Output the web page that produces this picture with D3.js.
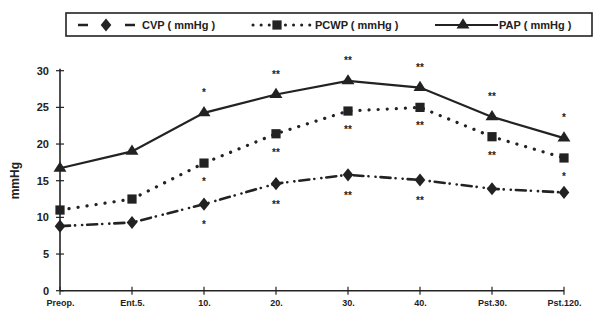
<!DOCTYPE html>
<html><head><meta charset="utf-8">
<script src="https://cdn.jsdelivr.net/npm/d3@7"></script>
<style>body{margin:0;background:#fff}svg{display:block}text{font-family:Arial,"Liberation Sans",sans-serif;font-weight:bold;fill:#222}</style>
</head><body><svg id="c" width="594" height="322"></svg>
<script>
const categories = ["Preop.", "Ent.5.", "10.", "20.", "30.", "40.", "Pst.30.", "Pst.120."];
const cvp  = [8.8, 9.3, 11.8, 14.6, 15.8, 15.1, 13.9, 13.4];
const pcwp = [11.0, 12.5, 17.4, 21.4, 24.5, 25.0, 21.0, 18.1];
const pap  = [16.7, 19.0, 24.25, 26.75, 28.6, 27.7, 23.7, 20.8];
const yTicks = [0, 5, 10, 15, 20, 25, 30];
const seriesNames = ["CVP ( mmHg )", "PCWP ( mmHg )", "PAP ( mmHg )"];
const sigPap  = ["", "", "*", "**", "**", "**", "**", "*"];
const sigPcwp = ["", "", "*", "**", "**", "**", "**", "*"];
const sigCvp  = ["", "", "*", "**", "**", "**", "", ""];

const svg = d3.select("#c");
const ink = "#222";
const x = d3.scalePoint().domain(categories).range([60, 564]);
const y = d3.scaleLinear().domain([0, 30]).range([290.7, 70.7]);

const yAxis = svg.append("g").attr("transform", "translate(60,0)")
  .call(d3.axisLeft(y).tickValues(yTicks).tickSize(0).tickPadding(11));
yAxis.select(".domain").remove();
yAxis.selectAll("text").style("font-size", "11px").attr("fill", ink);
svg.append("line").attr("x1", 60).attr("x2", 60).attr("y1", y(30) - 2).attr("y2", y(0)).attr("stroke", ink).attr("stroke-width", 1.6);
svg.selectAll(".yt").data(yTicks).join("line").attr("x1", 56).attr("x2", 64)
  .attr("y1", d => y(d)).attr("y2", d => y(d)).attr("stroke", ink).attr("stroke-width", 1.2);

const xAxis = svg.append("g").attr("transform", `translate(0,${y(0)})`)
  .call(d3.axisBottom(x).tickSize(0).tickPadding(9));
xAxis.select(".domain").remove();
xAxis.selectAll("text").style("font-size", "9px").attr("fill", ink);
svg.append("line").attr("x1", 60).attr("x2", 564).attr("y1", y(0)).attr("y2", y(0)).attr("stroke", ink).attr("stroke-width", 1.6);
svg.selectAll(".xt").data(categories).join("line").attr("x1", d => x(d)).attr("x2", d => x(d))
  .attr("y1", y(0) - 4).attr("y2", y(0) + 4).attr("stroke", ink).attr("stroke-width", 1.2);

svg.append("text").attr("transform", `translate(19,${y(15)}) rotate(-90)`)
  .attr("text-anchor", "middle").style("font-size", "12px").text("mmHg");

const line = d3.line().x((d, i) => x(categories[i])).y(d => y(d));
const dashCvp = "10,5,0.1,7,0.1,5";
const dashPcwp = "0.1,9";

svg.append("path").datum(pap).attr("d", line).attr("fill", "none").attr("stroke", ink).attr("stroke-width", 2.2);
svg.append("path").datum(pcwp).attr("d", line).attr("fill", "none").attr("stroke", ink).attr("stroke-width", 3.2)
  .attr("stroke-dasharray", dashPcwp).attr("stroke-linecap", "round");
svg.append("path").datum(cvp).attr("d", line).attr("fill", "none").attr("stroke", ink).attr("stroke-width", 2.6)
  .attr("stroke-dasharray", dashCvp).attr("stroke-linecap", "round");

const tri = d3.symbol().type(d3.symbolTriangle).size(60);
const sq = d3.symbol().type(d3.symbolSquare).size(85);
const dia = d3.symbol().type(d3.symbolDiamond).size(50);

svg.selectAll(".mp").data(pap).join("path").attr("d", tri)
  .attr("transform", (d, i) => `translate(${x(categories[i])},${y(d)}) scale(1.1,1)`).attr("fill", ink);
svg.selectAll(".mq").data(pcwp).join("path").attr("d", sq)
  .attr("transform", (d, i) => `translate(${x(categories[i])},${y(d)})`).attr("fill", ink);
svg.selectAll(".md").data(cvp).join("path").attr("d", dia)
  .attr("transform", (d, i) => `translate(${x(categories[i])},${y(d)}) scale(1.4,1)`).attr("fill", ink);

function marks(vals, sig, dy) {
  svg.append("g").selectAll("text").data(vals).join("text")
    .attr("x", (d, i) => x(categories[i]))
    .attr("y", (d, i) => y(d) + dy)
    .attr("text-anchor", "middle").style("font-size", "10px")
    .text((d, i) => sig[i]);
}
marks(pap, sigPap, -17);
marks(pcwp, sigPcwp, 22);
marks(cvp, sigCvp, 24);

const lg = svg.append("g");
lg.append("rect").attr("x", 66).attr("y", 13).attr("width", 526).attr("height", 23)
  .attr("fill", "none").attr("stroke", ink).attr("stroke-width", 1.6);
const ly = 25;
lg.append("line").attr("x1", 78).attr("x2", 135).attr("y1", ly).attr("y2", ly).attr("stroke", ink)
  .attr("stroke-width", 2.6).attr("stroke-dasharray", "10,37,10");
lg.append("path").attr("d", dia).attr("transform", `translate(106,${ly}) scale(1.4,1)`).attr("fill", ink);
lg.append("line").attr("x1", 253).attr("x2", 312).attr("y1", ly).attr("y2", ly).attr("stroke", ink)
  .attr("stroke-width", 3).attr("stroke-dasharray", "0.1,8").attr("stroke-linecap", "round");
lg.append("path").attr("d", sq).attr("transform", `translate(277,${ly})`).attr("fill", ink);
lg.append("line").attr("x1", 435).attr("x2", 498).attr("y1", ly).attr("y2", ly).attr("stroke", ink).attr("stroke-width", 2);
lg.append("path").attr("d", tri).attr("transform", `translate(463,${ly}) scale(1.1,1)`).attr("fill", ink);
const lx = [142, 315, 499];
lg.selectAll(".lt").data(seriesNames).join("text").attr("x", (d, i) => lx[i]).attr("y", ly + 4)
  .style("font-size", "11px").text(d => d);
</script></body></html>
